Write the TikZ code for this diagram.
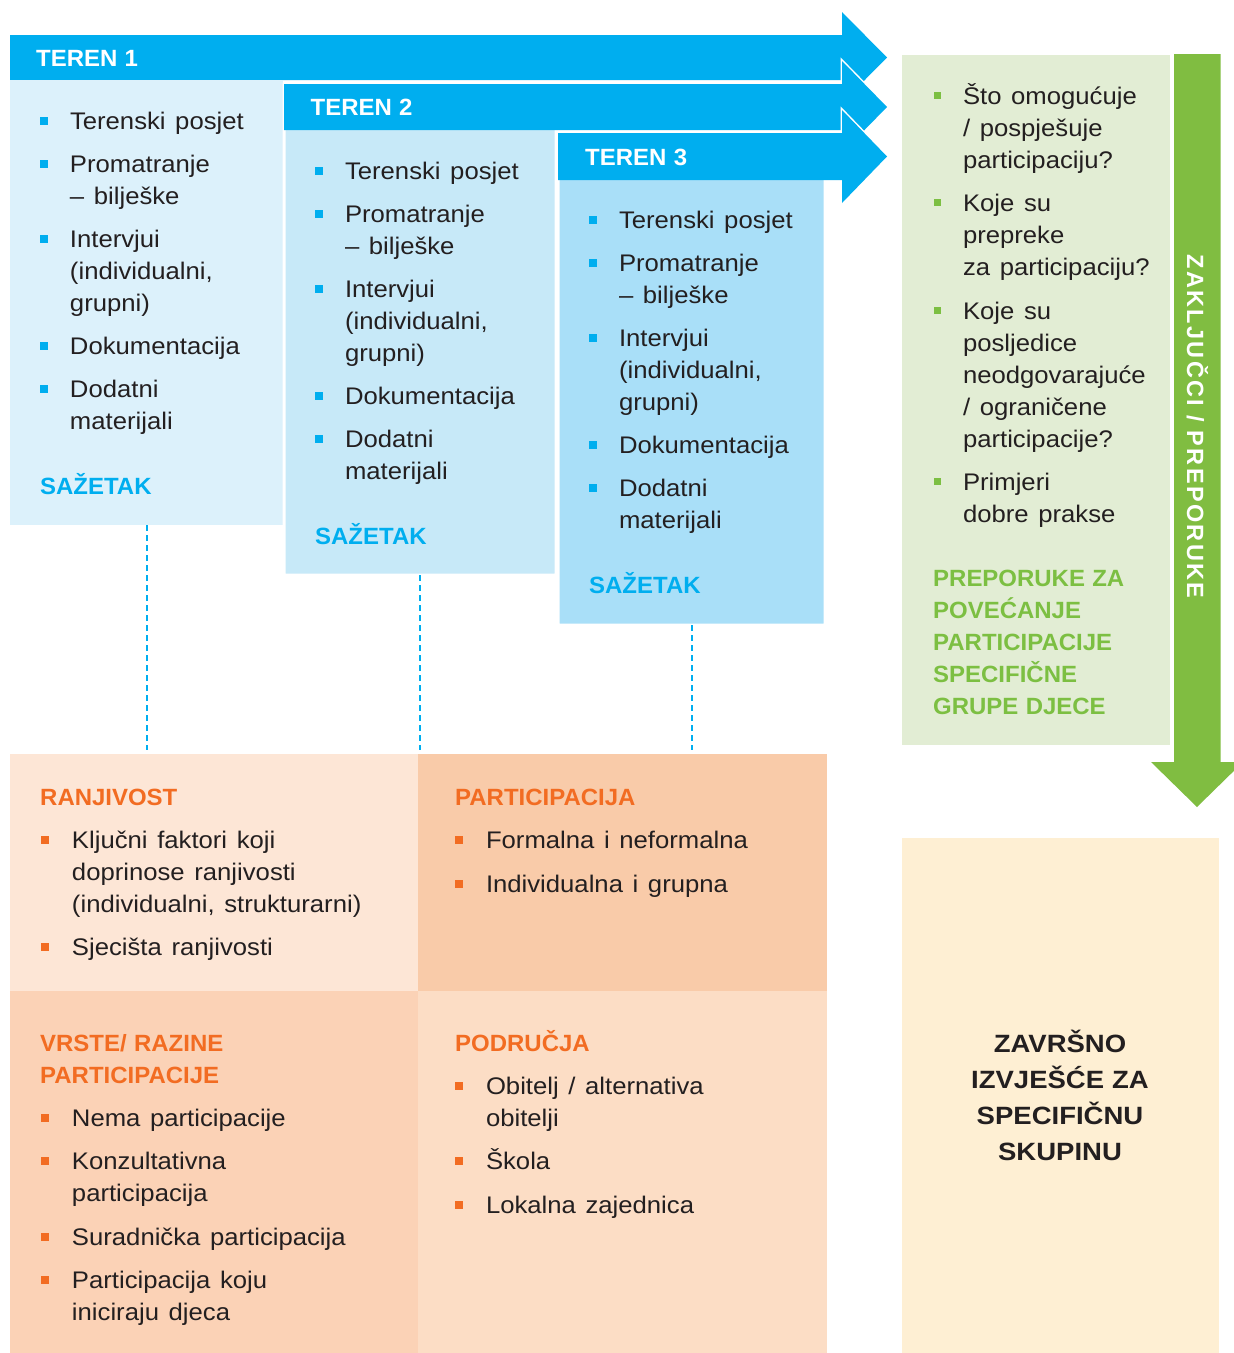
\documentclass[tikz,border=0pt]{standalone}
\usepackage{fontspec}
\setmainfont{Liberation Sans}
\newfontfamily\bodyf{Liberation Sans}[FakeStretch=1.07, WordSpace=1.35]
\newfontfamily\headf{Liberation Sans}[FakeStretch=1.02, WordSpace=1.1]
\newfontfamily\vertf{Liberation Sans}[LetterSpace=10]
\newfontfamily\finalf{Liberation Sans}[FakeStretch=1.1]
\definecolor{cyanb}{HTML}{00AEEF}
\definecolor{pan1}{HTML}{DCF1FB}
\definecolor{pan2}{HTML}{C7E9F8}
\definecolor{pan3}{HTML}{A9DFF8}
\definecolor{txt}{HTML}{231F20}
\definecolor{orng}{HTML}{F26C22}
\definecolor{oTL}{HTML}{FDE6D6}
\definecolor{oTR}{HTML}{F9CBA9}
\definecolor{oBL}{HTML}{FBD2B6}
\definecolor{oBR}{HTML}{FCDDC5}
\definecolor{gpan}{HTML}{E2EDD4}
\definecolor{garr}{HTML}{80BD41}
\definecolor{gtxt}{HTML}{7CBF42}
\definecolor{fin}{HTML}{FEEFD3}
\newcommand\bodyfont{\bodyf\fontsize{24}{32}\selectfont\spaceskip=0pt\xspaceskip=0pt\relax}
\newcommand\hdfont{\headf\bfseries\fontsize{23.5}{32}\selectfont\spaceskip=0pt\xspaceskip=0pt\relax}
\newcommand\ib[1]{\makebox[30pt][l]{\textcolor{#1}{\rule[4pt]{8pt}{8pt}}}}
\newcommand\ibo{\makebox[31pt][l]{\textcolor{orng}{\rule[4pt]{8pt}{8pt}}}}
\newcommand\ibg{\makebox[29pt][l]{\textcolor{gtxt}{\rule[5pt]{7pt}{7pt}}}}
\newcommand\ind{\hspace*{30pt}}
\newcommand\indo{\hspace*{31pt}}
\newcommand\indg{\hspace*{29pt}}
\tikzset{
  cell/.style={anchor=north west, inner sep=0, outer sep=0, draw=none},
  bodytext/.style={anchor=base west, inner sep=0, outer sep=0, text=txt, text width=420pt, align=left},
  bandhead/.style={anchor=base west, inner sep=0, text=white, font=\hdfont},
  sumtext/.style={anchor=base west, inner sep=0, text=cyanb, font=\hdfont},
  orhead/.style={anchor=base west, inner sep=0, text=orng, text width=400pt, align=left},
  dashline/.style={draw=cyanb, line width=2pt, dash pattern=on 6pt off 4pt},
  whiteedge/.style={draw=white, line width=3pt, line join=miter}
}
\begin{document}
\begin{tikzpicture}[x=1pt,y=-1pt]
\useasboundingbox (0,0) rectangle (1234,1353);
\fill[white] (0,0) rectangle (1234,1353);

% ---- TEREN 1
\fill[cyanb] (10,35) -- (842,35) -- (842,12) -- (887,57.5) -- (842,103) -- (842,80) -- (10,80) -- cycle;
\node[cell, fill=pan1, minimum width=273pt, minimum height=445pt] (p1) at (10,80) {};
\node[bandhead] (h1) at (36,66) {TEREN 1};
\node[bodytext] (t1) at (40,129) {\bodyfont
\ib{cyanb}Terenski posjet\\[11pt]
\ib{cyanb}Promatranje\\ \ind – bilješke\\[11pt]
\ib{cyanb}Intervjui\\ \ind (individualni,\\ \ind grupni)\\[11pt]
\ib{cyanb}Dokumentacija\\[11pt]
\ib{cyanb}Dodatni\\ \ind materijali\par};
\node[sumtext] (s1) at (40,494) {SAŽETAK};

% ---- TEREN 2
\filldraw[whiteedge, fill=pan2] (284,84) -- (842,84) -- (842,61) -- (887,107) -- (842,153) -- (842,130) -- (556,130) -- (556,575) -- (284,575) -- cycle;
\fill[cyanb] (284,84) -- (842,84) -- (842,61) -- (887,107) -- (842,153) -- (842,130) -- (284,130) -- cycle;
\node[cell, minimum width=272pt, minimum height=445pt] (p2) at (284,130) {};
\node[bandhead] (h2) at (310.5,115) {TEREN 2};
\node[bodytext] (t2) at (315,179) {\bodyfont
\ib{cyanb}Terenski posjet\\[11pt]
\ib{cyanb}Promatranje\\ \ind – bilješke\\[11pt]
\ib{cyanb}Intervjui\\ \ind (individualni,\\ \ind grupni)\\[11pt]
\ib{cyanb}Dokumentacija\\[11pt]
\ib{cyanb}Dodatni\\ \ind materijali\par};
\node[sumtext] (s2) at (315,544) {SAŽETAK};

% ---- TEREN 3
\filldraw[whiteedge, fill=pan3] (558,133) -- (842,133) -- (842,110) -- (887,156.5) -- (842,203) -- (842,180) -- (825,180) -- (825,625) -- (558,625) -- cycle;
\fill[cyanb] (558,133) -- (842,133) -- (842,110) -- (887,156.5) -- (842,203) -- (842,180) -- (558,180) -- cycle;
\node[cell, minimum width=267pt, minimum height=445pt] (p3) at (558,180) {};
\node[bandhead] (h3) at (585,165) {TEREN 3};
\node[bodytext] (t3) at (589,228) {\bodyfont
\ib{cyanb}Terenski posjet\\[11pt]
\ib{cyanb}Promatranje\\ \ind – bilješke\\[11pt]
\ib{cyanb}Intervjui\\ \ind (individualni,\\ \ind grupni)\\[11pt]
\ib{cyanb}Dokumentacija\\[11pt]
\ib{cyanb}Dodatni\\ \ind materijali\par};
\node[sumtext] (s3) at (589,593) {SAŽETAK};

% ---- bottom grid
\node[cell, fill=oTL, minimum width=408pt, minimum height=237pt] (gTL) at (10,754) {};
\node[cell, fill=oTR, minimum width=409pt, minimum height=237pt] (gTR) at (418,754) {};
\node[cell, fill=oBL, minimum width=408pt, minimum height=362pt] (gBL) at (10,991) {};
\node[cell, fill=oBR, minimum width=409pt, minimum height=362pt] (gBR) at (418,991) {};

% dashed connectors
\draw[dashline, shorten >=4pt] (p1.south) -- (p1.south |- gTL.north);
\draw[dashline, shorten >=4pt] (p2.south) -- (p2.south |- gTL.north);
\draw[dashline, shorten >=4pt] (p3.south) -- (p3.south |- gTR.north);

% RANJIVOST
\node[orhead] (rh) at (40,805) {\hdfont RANJIVOST\par};
\node[bodytext] (rt) at (41,848) {\bodyfont
\ibo Ključni faktori koji\\ \indo doprinose ranjivosti\\ \indo (individualni, strukturarni)\\[11pt]
\ibo Sjecišta ranjivosti\par};

% PARTICIPACIJA
\node[orhead] (ph) at (455,805) {\hdfont PARTICIPACIJA\par};
\node[bodytext] (pt) at (455,848) {\bodyfont
\ibo Formalna i neformalna\\[12pt]
\ibo Individualna i grupna\par};

% VRSTE / RAZINE
\node[orhead] (vh) at (40,1051) {\hdfont VRSTE/ RAZINE\\ PARTICIPACIJE\par};
\node[bodytext] (vt) at (41,1126) {\bodyfont
\ibo Nema participacije\\[11pt]
\ibo Konzultativna\\ \indo participacija\\[12pt]
\ibo Suradnička participacija\\[11pt]
\ibo Participacija koju\\ \indo iniciraju djeca\par};

% PODRUCJA
\node[orhead] (dh) at (455,1051) {\hdfont PODRUČJA\par};
\node[bodytext] (dt) at (455,1094) {\bodyfont
\ibo Obitelj / alternativa\\ \indo obitelji\\[11pt]
\ibo Škola\\[12pt]
\ibo Lokalna zajednica\par};

% ---- green panel and arrow
\node[cell, fill=gpan, minimum width=268pt, minimum height=690pt] (gp) at (902,55) {};
\fill[garr] (1174,54) -- (1220.5,54) -- (1220.5,762) -- (1243,762) -- (1197,807) -- (1151,762) -- (1174,762) -- cycle;
\node[anchor=base, inner sep=0, rotate=-90, text=white] (vz) at (1187,426.5) {\vertf\bfseries\fontsize{23.5}{28}\selectfont ZAKLJUČCI / PREPORUKE};

\node[bodytext] (gt) at (934,104) {\bodyfont
\ibg Što omogućuje\\ \indg / pospješuje\\ \indg participaciju?\\[11pt]
\ibg Koje su\\ \indg prepreke\\ \indg za participaciju?\\[12pt]
\ibg Koje su\\ \indg posljedice\\ \indg neodgovarajuće\\ \indg / ograničene\\ \indg participacije?\\[11pt]
\ibg Primjeri\\ \indg dobre prakse\par};
\node[anchor=base west, inner sep=0, text=gtxt, text width=300pt, align=left] (gh) at (933,586) {\hdfont PREPORUKE ZA\\ POVEĆANJE\\ PARTICIPACIJE\\ SPECIFIČNE\\ GRUPE DJECE\par};

% ---- final box
\node[cell, fill=fin, minimum width=317pt, minimum height=515pt] (fb) at (902,838) {};
\node[anchor=base, inner sep=0, text=txt, text width=300pt, align=center] (ft) at (1060,1052) {\finalf\bfseries\fontsize{25}{36}\selectfont\spaceskip=8pt\xspaceskip=8pt\relax ZAVRŠNO\\ IZVJEŠĆE ZA\\ SPECIFIČNU\\ SKUPINU\par};
\end{tikzpicture}
\end{document}
